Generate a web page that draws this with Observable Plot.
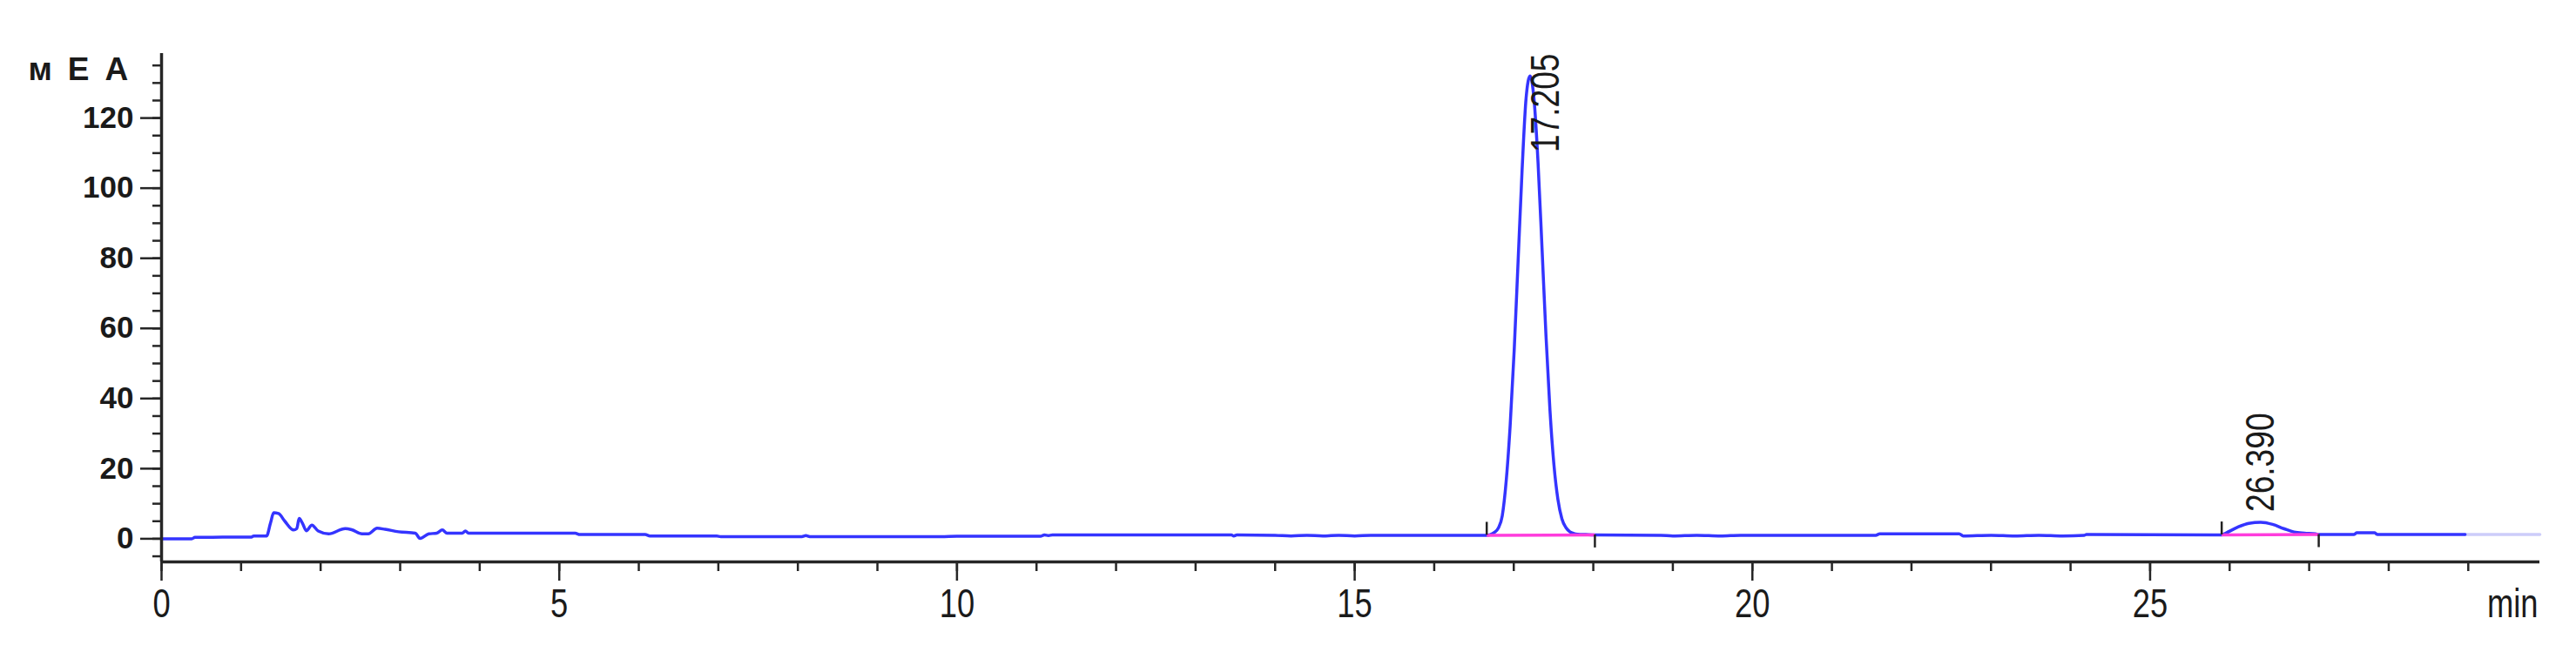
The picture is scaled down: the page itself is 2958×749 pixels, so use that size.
<!DOCTYPE html>
<html><head><meta charset="utf-8">
<script src="https://cdn.jsdelivr.net/npm/d3@7"></script>
<script src="https://cdn.jsdelivr.net/npm/@observablehq/plot@0.6"></script>
<style>
html,body{margin:0;padding:0;background:#fff;}
</style>
</head><body><div id="chart"></div>
<script>
// Chromatogram trace (time in min, signal in мЕА)
const time = [0, 0.38, 0.42, 1.13, 1.16, 1.32, 1.37, 1.41, 1.47, 1.55, 1.66, 1.70, 1.73, 1.77, 1.82, 1.89, 1.97, 2.10, 2.31, 2.39, 2.52, 2.60, 2.71, 2.81, 2.98, 3.19, 3.25, 3.36, 3.46, 3.53, 3.59, 3.78, 3.82, 3.86, 5.20, 5.26, 6.08, 6.14, 6.98, 7.03, 8.05, 8.10, 8.15, 9.80, 10.0, 11.05, 11.10, 11.15, 11.20, 13.45, 13.48, 13.52, 14.0, 14.2, 14.4, 14.6, 14.8, 15.0, 15.2, 16.66,
  16.705, 16.755, 16.805, 16.855, 16.905, 16.955, 17.005, 17.055, 17.105, 17.155, 17.205, 17.255, 17.305, 17.355, 17.405, 17.455, 17.505, 17.555, 17.605, 17.655, 17.705, 17.755, 17.805, 17.905, 18.02,
  18.85, 19.0, 19.3, 19.6, 19.85, 21.55, 21.60, 22.60, 22.65, 23.0, 23.3, 23.6, 23.9, 24.17, 24.20, 25.90,
  25.95, 26.10, 26.24, 26.39, 26.54, 26.68, 26.81, 26.94, 27.08, 27.12, 27.56, 27.60, 27.82, 27.86, 28.96];
const signal = [0, 0, 0.4, 0.5, 0.8, 0.8, 4.5, 7.4, 7.2, 5.0, 2.5, 2.9, 5.8, 4.5, 2.3, 3.9, 2.2, 1.4, 2.9, 2.6, 1.4, 1.4, 3.0, 2.7, 2.0, 1.6, 0.1, 1.4, 1.6, 2.5, 1.6, 1.6, 2.2, 1.6, 1.6, 1.2, 1.2, 0.8, 0.8, 0.6, 0.6, 0.9, 0.6, 0.6, 0.7, 0.7, 1.1, 0.9, 1.1, 1.1, 0.8, 1.1, 1.0, 0.8, 1.0, 0.8, 1.0, 0.8, 1.0, 1.0,
  1.2, 1.8, 3.0, 6.5, 16.5, 32.4, 53.6, 79.4, 105.3, 125.7, 132, 125.3, 107.4, 83.0, 58.0, 36.7, 21.1, 11.2, 5.7, 3.2, 2.0, 1.5, 1.3, 1.2, 1.1,
  1.0, 0.8, 1.0, 0.8, 1.0, 1.0, 1.4, 1.4, 0.8, 1.0, 0.8, 1.0, 0.8, 1.0, 1.2, 1.1,
  1.6, 3.3, 4.4, 4.7, 4.1, 2.9, 1.9, 1.6, 1.4, 1.2, 1.2, 1.7, 1.7, 1.2, 1.2];
const tailTime = [28.96, 29.9];
const tailSignal = [1.2, 1.2];

// Integrated peaks
const peakTime = [17.205, 26.390];
const peakLabel = ["17.205", "26.390"];
const peakApex = [132, 4.7];
const peakStart = [16.66, 25.90];
const peakEnd = [18.02, 27.12];
const baseStart = [1.0, 1.1];
const baseEnd = [1.1, 1.2];

// Axes
const xMajor = [0, 5, 10, 15, 20, 25];
const xMinor = [0,1,2,3,4,5,6,7,8,9,10,11,12,13,14,15,16,17,18,19,20,21,22,23,24,25,26,27,28,29];
const yMajor = [0, 20, 40, 60, 80, 100, 120];
const yMinor = [-5,0,5,10,15,20,25,30,35,40,45,50,55,60,65,70,75,80,85,90,95,100,105,110,115,120,125,130,135];
const xDomain = [0, 29.9];
const yDomain = [-6.6, 138.4];
const unitLabel = "мЕА";
const timeLabel = "min";

const trace = time.map((t, i) => ({t, v: signal[i]}));
const tail = tailTime.map((t, i) => ({t, v: tailSignal[i]}));
const peaks = peakTime.map((t, i) => ({
  time: t, label: peakLabel[i], apex: peakApex[i],
  start: peakStart[i], end: peakEnd[i], b0: baseStart[i], b1: baseEnd[i]
}));

const font = "'Liberation Sans', Arial, sans-serif";
const axisColor = "#262626";
const textColor = "#1a1a1a";

const chart = Plot.plot({
  width: 2958,
  height: 749,
  marginLeft: 185,
  marginRight: 42,
  marginTop: 61,
  marginBottom: 104,
  style: {background: "#fff"},
  x: {domain: xDomain, label: null},
  y: {domain: yDomain, label: null},
  marks: [
    Plot.line(tail, {x: "t", y: "v", stroke: "#cdcdfa", strokeWidth: 3.5}),
    Plot.line(trace, {x: "t", y: "v", stroke: "#3434ff", strokeWidth: 3.5, curve: "monotone-x"}),
    Plot.link(peaks, {x1: "start", y1: "b0", x2: "end", y2: "b1", stroke: "#ff3cdc", strokeWidth: 3.5}),
    Plot.ruleX(peaks, {x: "start", y1: "b0", y2: d => d.b0 + 3.7, stroke: "#222", strokeWidth: 2.5}),
    Plot.ruleX(peaks, {x: "end", y1: "b1", y2: d => d.b1 - 3.7, stroke: "#222", strokeWidth: 2.5}),
    Plot.ruleX([xDomain[0]], {stroke: axisColor, strokeWidth: 3.5}),
    Plot.ruleY([yDomain[0]], {stroke: axisColor, strokeWidth: 3.5}),
    Plot.axisX({ticks: xMinor, tickSize: 11, tickFormat: () => "", stroke: axisColor, strokeWidth: 2.5}),
    Plot.axisX({ticks: xMajor, tickSize: 22, tickPadding: 9, stroke: axisColor, strokeWidth: 2.5,
      fill: textColor, fontSize: 46, fontFamily: font}),
    Plot.axisY({ticks: yMinor, tickSize: 10, tickFormat: () => "", stroke: axisColor, strokeWidth: 2.5}),
    Plot.axisY({ticks: yMajor, tickSize: 24, tickPadding: 8, stroke: axisColor, strokeWidth: 2.5,
      fill: textColor, fontSize: 35, fontWeight: "bold", fontFamily: font}),
    Plot.text(peaks.filter(p => p.apex > 100), {x: "time", text: "label", frameAnchor: "top",
      rotate: -90, textAnchor: "end", fontSize: 47, fontFamily: font, fill: textColor}),
    Plot.text(peaks.filter(p => p.apex <= 100), {x: "time", y: "apex", text: "label", dy: -12,
      rotate: -90, textAnchor: "start", fontSize: 47, fontFamily: font, fill: textColor}),
    Plot.text([unitLabel], {frameAnchor: "top-left", dx: -153, dy: 19, textAnchor: "start",
      lineAnchor: "middle", fontSize: 37, fontWeight: "bold", fontFamily: font, fill: textColor}),
    Plot.text([timeLabel], {frameAnchor: "bottom-right", dx: -2, dy: 49, textAnchor: "end",
      lineAnchor: "middle", fontSize: 46, fontFamily: font, fill: textColor})
  ]
});

const svg = d3.select(chart);
svg.selectAll("text").filter(function() { return this.textContent === unitLabel; })
  .style("letter-spacing", "18px");
// narrow (condensed) lettering, as in the instrument's printout
function condense() {
  const t = this.getAttribute("transform");
  if (t) this.setAttribute("transform", t + " scale(0.79,1)");
  else {
    const x = +this.getAttribute("x") || 0, y = +this.getAttribute("y") || 0;
    this.removeAttribute("x"); this.removeAttribute("y");
    this.setAttribute("transform", `translate(${x},${y}) scale(0.79,1)`);
  }
}
svg.selectAll('g[aria-label="x-axis tick label"] text').each(condense);
const narrowSet = new Set([...peakLabel, timeLabel]);
svg.selectAll("text").filter(function() { return narrowSet.has(this.textContent); }).each(condense);
document.getElementById("chart").appendChild(chart);
</script>
</body></html>
